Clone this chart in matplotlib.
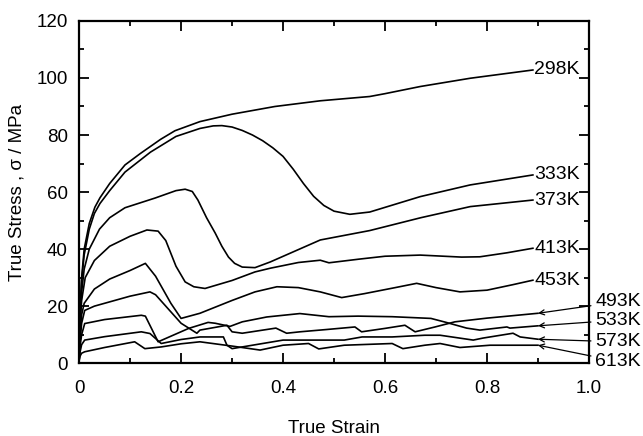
import numpy as np
import matplotlib
matplotlib.use('Agg')
import matplotlib.pyplot as plt
from matplotlib.ticker import MultipleLocator

plt.rcParams['font.family'] = ['Liberation Sans', 'DejaVu Sans']

# ── data (true strain, true stress MPa) ───────────────────────────────────────
x_298 = [0, 0.002, 0.005, 0.01, 0.02, 0.031, 0.041, 0.06, 0.09, 0.12, 0.14, 0.16,
         0.188, 0.237, 0.3, 0.384, 0.473, 0.57, 0.6, 0.669, 0.767, 0.89]
y_298 = [3, 18, 30, 40, 49, 54.7, 58, 63, 69.5, 73.5, 76, 78.5,
         81.5, 84.7, 87.3, 90, 92, 93.5, 94.5, 97, 99.9, 102.8]

x_333 = [0, 0.002, 0.005, 0.01, 0.02, 0.03, 0.041, 0.06, 0.09, 0.14, 0.19, 0.237,
         0.263, 0.28, 0.3, 0.32, 0.34, 0.36, 0.38, 0.4, 0.42, 0.44, 0.46, 0.48,
         0.5, 0.531, 0.57, 0.669, 0.767, 0.89]
y_333 = [3, 17, 29, 38, 47, 52.5, 56, 60.5, 67, 74, 79.5, 82.3,
         83.2, 83.3, 82.8, 81.6, 80, 78, 75.5, 72.5, 68, 63, 58.5, 55.3,
         53.3, 52.2, 53, 58.4, 62.5, 66]

x_373 = [0, 0.002, 0.005, 0.01, 0.02, 0.04, 0.06, 0.09, 0.149, 0.19, 0.208, 0.222,
         0.233, 0.25, 0.267, 0.28, 0.293, 0.305, 0.32, 0.345, 0.375, 0.473, 0.57,
         0.67, 0.767, 0.89]
y_373 = [3, 15, 25, 33, 40, 47, 51, 54.5, 57.9, 60.5, 61, 60.2,
         57.2, 51, 45.6, 41, 37.2, 35, 33.7, 33.5, 35.5, 43.2, 46.5,
         51, 54.9, 57.2]

x_413 = [0, 0.002, 0.005, 0.012, 0.03, 0.06, 0.1, 0.133, 0.155, 0.17, 0.19, 0.208,
         0.225, 0.247, 0.3, 0.345, 0.375, 0.43, 0.473, 0.49, 0.55, 0.6, 0.669, 0.75,
         0.786, 0.839, 0.89]
y_413 = [3, 14, 22, 30, 36, 41, 44.5, 46.7, 46.3, 43, 34, 28.5,
         26.8, 26.2, 29, 32, 33.3, 35.3, 36.1, 35.2, 36.5, 37.5, 37.9, 37.2,
         37.3, 38.7, 40.3]

x_453 = [0, 0.002, 0.005, 0.01, 0.03, 0.06, 0.1, 0.13, 0.15, 0.18, 0.2, 0.237, 0.3,
         0.345, 0.388, 0.43, 0.473, 0.515, 0.56, 0.62, 0.662, 0.7, 0.747, 0.8, 0.85,
         0.89]
y_453 = [2, 10, 17, 21, 26, 29.5, 32.5, 35, 30.5, 21, 15.7, 17.5, 22,
         25, 26.8, 26.5, 25, 23, 24.4, 26.5, 28, 26.5, 25, 25.6, 27.5,
         29.1]

x_493 = [0, 0.002, 0.005, 0.011, 0.03, 0.06, 0.1, 0.139, 0.15, 0.2, 0.231, 0.237,
         0.29, 0.3, 0.32, 0.386, 0.407, 0.433, 0.485, 0.541, 0.554, 0.6, 0.639, 0.659,
         0.698, 0.737, 0.8, 0.9]
y_493 = [1.5, 8, 14, 18.5, 20, 21.5, 23.5, 25, 24, 14, 10.5, 11.6,
         13.3, 11, 10.5, 12.3, 10.5, 11, 11.8, 12.7, 11, 12.2, 13.3, 11,
         12.7, 14.5, 15.8, 17.5]

x_533 = [0, 0.002, 0.005, 0.011, 0.05, 0.122, 0.13, 0.155, 0.215, 0.253, 0.267,
         0.296, 0.32, 0.368, 0.433, 0.49, 0.547, 0.614, 0.69, 0.72, 0.76, 0.786,
         0.839, 0.845, 0.9]
y_533 = [1.5, 6, 10, 13.9, 15.3, 16.8, 16.5, 7.5, 12.2, 14.3, 14,
         12.9, 14.5, 16.2, 17.4, 16.3, 16.5, 16.3, 15.7, 14.3, 12.3, 11.6,
         12.7, 12.3, 13.1]

x_573 = [0, 0.002, 0.005, 0.011, 0.05, 0.122, 0.139, 0.161, 0.2, 0.237, 0.283, 0.29,
         0.3, 0.4, 0.482, 0.52, 0.555, 0.614, 0.678, 0.708, 0.773, 0.792, 0.851,
         0.865, 0.9]
y_573 = [1, 4, 6.5, 8.1, 9.3, 11, 10.4, 6.9, 8.3, 9.2, 9.2, 6.3,
         5.1, 8.1, 8.1, 8.1, 9.2, 9.2, 9.8, 9.8, 8.1, 8.8, 10.5,
         9.2, 8.4]

x_613 = [0, 0.002, 0.005, 0.011, 0.05, 0.109, 0.129, 0.161, 0.2, 0.237, 0.3, 0.355,
         0.4, 0.45, 0.47, 0.52, 0.614, 0.635, 0.678, 0.708, 0.747, 0.806, 0.9]
y_613 = [0.8, 2.5, 3.5, 4, 5.5, 7.5, 5.1, 5.7, 6.8, 7.5, 6, 4.6,
         6.3, 6.9, 5, 6.3, 6.9, 5.1, 6.3, 6.9, 5.5, 6.3, 6.3]

inner_labels = ['298K', '333K', '373K', '413K', '453K']
inner_y = [102.8, 66, 57.2, 40.3, 29.1]
outer_labels = ['493K', '533K', '573K', '613K']
outer_text_y = [21.5, 15.1, 7.5, 0.6]
outer_arrow_x = [0.9, 0.9, 0.9, 0.9]
outer_arrow_y = [17.5, 13.1, 8.4, 6.3]

# ── plot ──────────────────────────────────────────────────────────────────────
fig = plt.figure(figsize=(6.43, 4.36), dpi=100)
ax = fig.add_axes([0.123, 0.167, 0.793, 0.785])

series = [(x_298, y_298), (x_333, y_333), (x_373, y_373), (x_413, y_413),
          (x_453, y_453), (x_493, y_493), (x_533, y_533), (x_573, y_573),
          (x_613, y_613)]
for xs, ys in series:
    ax.plot(xs, ys, color='black', lw=1.2, solid_joinstyle='round')

for lab, yv in zip(inner_labels, inner_y):
    ax.text(0.893, yv, lab, fontsize=14, ha='left', va='center')

for lab, ty, ax_x, ay in zip(outer_labels, outer_text_y, outer_arrow_x, outer_arrow_y):
    ax.annotate(lab, xy=(ax_x, ay), xytext=(1.012, ty), fontsize=14,
                ha='left', va='center', annotation_clip=False,
                arrowprops=dict(arrowstyle='->', lw=0.9, color='black',
                                shrinkA=1, shrinkB=0, mutation_scale=9))

ax.set_xlim(0, 1.0)
ax.set_ylim(0, 120)
ax.xaxis.set_major_locator(MultipleLocator(0.2))
ax.xaxis.set_minor_locator(MultipleLocator(0.1))
ax.yaxis.set_major_locator(MultipleLocator(20))
ax.yaxis.set_minor_locator(MultipleLocator(10))
ax.set_xticks([0, 0.2, 0.4, 0.6, 0.8, 1.0])
ax.set_xticklabels(['0', '0.2', '0.4', '0.6', '0.8', '1.0'])
ax.tick_params(which='both', direction='in', top=True, right=True,
               labelsize=13.5, width=1.3)
ax.tick_params(which='major', length=7)
ax.tick_params(which='minor', length=3.5)
ax.tick_params(axis='x', pad=12)
ax.tick_params(axis='y', pad=8)
for s in ax.spines.values():
    s.set_linewidth(1.6)

ax.set_xlabel('True Strain', fontsize=13.5, labelpad=17)
ax.set_ylabel('True Stress , σ / MPa', fontsize=13.5, labelpad=8)

fig.savefig('out.png', dpi=100)
